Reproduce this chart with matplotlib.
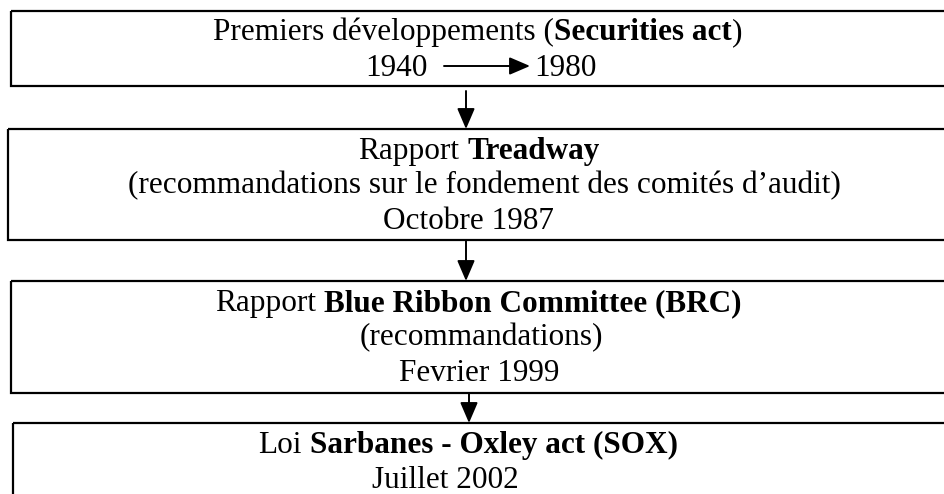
import matplotlib
matplotlib.use('Agg')
import matplotlib.pyplot as plt
from matplotlib.patches import Rectangle

W, H = 944, 494
plt.rcParams['font.family'] = ['Liberation Serif', 'DejaVu Serif']
FS = 22.5

# ===== contenu =====
# chaque ligne = liste de (texte, gras)
box1_line1 = [("Premiers développements (", False), ("Securities act", True), (")", False)]
years_start, years_end = "1940", "1980"
box2_lines = [
    [("Rapport ", False), ("Treadway", True)],
    [("(recommandations sur le fondement des comités d’audit)", False)],
    [("Octobre 1987", False)],
]
box3_lines = [
    [("Rapport ", False), ("Blue Ribbon Committee (BRC)", True)],
    [("(recommandations)", False)],
    [("Fevrier 1999", False)],
]
box4_lines = [
    [("Loi ", False), ("Sarbanes - Oxley act (SOX)", True)],
    [("Juillet 2002", False)],
]

# ===== mise en page (pixels) =====
boxes = [  # left, top, bottom
    (11, 11, 86),
    (8, 129, 240),
    (11, 281, 393),
    (13, 423, 520),
]
arrows = [  # x, y_start, y_end
    (466, 91, 129),
    (466, 241, 281),
    (469, 393, 423),
]

fig = plt.figure(figsize=(9.44, 4.94), dpi=100)
ax = fig.add_axes([0, 0, 1, 1])
ax.set_xlim(0, W)
ax.set_ylim(H, 0)
ax.axis('off')
renderer = fig.canvas.get_renderer()


def text_w(s, bold):
    t = ax.text(0, 0, s, fontsize=FS, fontweight='bold' if bold else 'normal')
    w = t.get_window_extent(renderer).width
    t.remove()
    return w


sp = {b: text_w('a a', b) - text_w('aa', b) for b in (False, True)}


def draw_line(pieces, y, cx=None, x0=None):
    parts = []
    for s, b in pieces:
        core = s.strip(' ')
        lead = (len(s) - len(s.lstrip(' '))) * sp[b]
        trail = (len(s) - len(s.rstrip(' '))) * sp[b]
        parts.append((lead, text_w(core, b) if core else 0, trail, core, b))
    total = sum(p[0] + p[1] + p[2] for p in parts)
    x = x0 if x0 is not None else cx - total / 2
    for lead, w, trail, core, b in parts:
        x += lead
        if core:
            ax.text(x, y, core, ha='left', va='baseline', fontsize=FS,
                    fontweight='bold' if b else 'normal', color='black')
        x += w + trail


for left, top, bottom in boxes:
    ax.add_patch(Rectangle((left, top), W + 40 - left, bottom - top,
                           fill=False, ec='black', lw=1.6, clip_on=False))

arrow_style = dict(arrowstyle='-|>,head_length=0.7,head_width=0.3',
                   color='black', lw=1.4, mutation_scale=18,
                   shrinkA=0, shrinkB=0)
for x, y0, y1 in arrows:
    ax.annotate('', xy=(x, y1), xytext=(x, y0), arrowprops=arrow_style)

# boite 1
draw_line(box1_line1, 40, cx=478)
ax.text(365, 76, years_start, ha='left', va='baseline', fontsize=FS)
ax.annotate('', xy=(530, 66), xytext=(444, 66), arrowprops=arrow_style)
ax.text(534, 76, years_end, ha='left', va='baseline', fontsize=FS)

# boite 2
draw_line(box2_lines[0], 159, cx=479)
draw_line(box2_lines[1], 193, cx=484)
draw_line(box2_lines[2], 229, x0=383)

# boite 3
draw_line(box3_lines[0], 311, cx=478)
draw_line(box3_lines[1], 345, cx=481)
draw_line(box3_lines[2], 381, cx=479)

# boite 4
draw_line(box4_lines[0], 453, cx=468)
draw_line(box4_lines[1], 488, x0=372)

fig.savefig('out.png', dpi=100)
